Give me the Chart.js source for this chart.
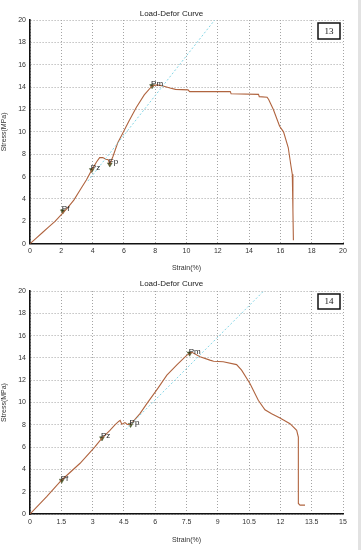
<!DOCTYPE html>
<html>
<head>
<meta charset="utf-8">
<script src="https://cdn.jsdelivr.net/npm/chart.js@4"></script>
<style>
  body { margin: 0; background: #fff; width: 363px; height: 550px; position: relative; overflow: hidden; }
  canvas { display: block; }
  .edge { position: absolute; left: 358px; top: 0; width: 3px; height: 550px; background: #e2e2e2; }
</style>
</head>
<body>
<canvas id="chart13" width="363" height="275"></canvas>
<canvas id="chart14" width="363" height="275"></canvas>
<div class="edge"></div>
<script>
// specimen 13
const strain13 = [0, 0.4, 0.8, 1.2, 1.6, 2.0, 2.4, 2.8, 3.2, 3.6, 3.95, 4.25, 4.45, 4.65, 4.85, 5.0, 5.1, 5.3, 5.6, 5.9, 6.3, 6.8, 7.3, 7.8, 8.1, 8.5, 9.0, 9.3, 10.1, 10.2, 12.8, 12.85, 14.6, 14.65, 15.15, 15.25, 15.55, 15.95, 16.2, 16.5, 16.68, 16.76, 16.8, 16.83];
const stress13 = [0, 0.5, 1.0, 1.5, 2.0, 2.6, 3.2, 3.9, 4.8, 5.7, 6.6, 7.3, 7.7, 7.7, 7.55, 7.5, 7.1, 7.8, 9.0, 9.8, 10.9, 12.2, 13.3, 14.1, 14.2, 14.1, 13.9, 13.8, 13.75, 13.6, 13.6, 13.4, 13.35, 13.15, 13.1, 12.9, 12.0, 10.5, 10.0, 8.6, 6.9, 6.2, 3.0, 0.3];
const markLabels13 = ['Pf', 'Pz', 'Fp', 'Pm'];
const markStrain13 = [2.1, 3.95, 5.1, 7.8];
const markStress13 = [2.9, 6.6, 7.1, 14.1];
const guideStrain13 = [3.7, 11.8];
const guideStress13 = [5.6, 20];
const xTicks13 = [0, 2, 4, 6, 8, 10, 12, 14, 16, 18, 20];

// specimen 14
const strain14 = [0, 0.8, 1.52, 2.4, 3.1, 3.45, 3.83, 4.07, 4.25, 4.32, 4.4, 4.55, 4.65, 4.8, 4.95, 5.27, 5.6, 6.1, 6.56, 7.05, 7.52, 7.76, 8.15, 8.62, 8.8, 9.26, 9.9, 10.14, 10.54, 10.94, 11.26, 11.58, 11.98, 12.46, 12.78, 12.86, 12.86, 12.94, 13.18];
const stress14 = [0, 1.55, 3.05, 4.55, 6.0, 6.8, 7.5, 8.0, 8.3, 8.4, 8.05, 8.2, 8.05, 8.0, 8.3, 9.0, 9.9, 11.2, 12.45, 13.4, 14.25, 14.5, 14.1, 13.8, 13.7, 13.65, 13.4, 12.9, 11.7, 10.2, 9.35, 9.0, 8.6, 8.1, 7.5, 6.9, 0.95, 0.8, 0.8];
const markLabels14 = ['Pf', 'Pz', 'Pp', 'Pm'];
const markStrain14 = [1.52, 3.45, 4.82, 7.65];
const markStress14 = [3.0, 6.8, 8.0, 14.4];
const guideStrain14 = [4.6, 11.2];
const guideStress14 = [7.6, 20];
const xTicks14 = [0, 1.5, 3, 4.5, 6, 7.5, 9, 10.5, 12, 13.5, 15];

const yTicks = [0, 2, 4, 6, 8, 10, 12, 14, 16, 18, 20];

const FONT = 'Liberation Sans, Arial, sans-serif';
const curveColor = '#b0643f';
const markColor = '#4b5a2c';
const gridColor = '#a4a4a4';

const toPoints = (xs, ys) => xs.map((x, i) => ({ x: x, y: ys[i] }));

// labels next to the marker triangles
const markLabelPlugin = {
  id: 'markLabels',
  afterDatasetsDraw(chart) {
    const ctx = chart.ctx;
    const meta = chart.getDatasetMeta(2);
    const names = chart.config.options.plugins.markLabels.names;
    ctx.save();
    ctx.font = '8px ' + FONT;
    ctx.fillStyle = '#222';
    ctx.textAlign = 'left';
    ctx.textBaseline = 'bottom';
    meta.data.forEach((pt, i) => {
      ctx.fillText(names[i], pt.x - 1, pt.y + 2);
    });
    ctx.restore();
  }
};

// small framed specimen number in the corner
const specimenBoxPlugin = {
  id: 'specimenBox',
  afterDraw(chart) {
    const opts = chart.config.options.plugins.specimenBox;
    const area = chart.chartArea;
    const ctx = chart.ctx;
    const w = 22, h = opts.h;
    const x = area.right - 3 - w, y = area.top + 3;
    ctx.save();
    ctx.fillStyle = '#fff';
    ctx.fillRect(x, y, w, h);
    ctx.strokeStyle = '#111';
    ctx.lineWidth = 1.5;
    ctx.strokeRect(x, y, w, h);
    ctx.fillStyle = '#111';
    ctx.font = '9px Liberation Serif, serif';
    ctx.textAlign = 'center';
    ctx.textBaseline = 'middle';
    ctx.fillText(opts.text, x + w / 2, y + h / 2 + 0.5);
    ctx.restore();
  }
};

const axisFont = { family: FONT, size: 7 };

const makeChart = (id, cfg) => {
  const ctx = document.getElementById(id).getContext('2d');
  return new Chart(ctx, {
    type: 'scatter',
    data: {
      datasets: [
        {
          data: toPoints(cfg.guideX, cfg.guideY),
          showLine: true,
          borderColor: '#86d6e6',
          borderWidth: 1,
          borderDash: [2, 2],
          pointRadius: 0
        },
        {
          data: toPoints(cfg.strain, cfg.stress),
          showLine: true,
          borderColor: curveColor,
          borderWidth: 1.1,
          pointRadius: 0
        },
        {
          data: toPoints(cfg.markX, cfg.markY),
          pointStyle: 'triangle',
          rotation: 180,
          pointRadius: 2.8,
          backgroundColor: markColor,
          borderColor: markColor,
          borderWidth: 0.5
        }
      ]
    },
    options: {
      responsive: false,
      animation: false,
      devicePixelRatio: 1,
      layout: { padding: { left: 0, right: 20, top: 0, bottom: 0 } },
      plugins: {
        legend: { display: false },
        tooltip: { enabled: false },
        title: {
          display: true,
          text: 'Load-Defor Curve',
          color: '#222',
          font: { family: FONT, size: 8, weight: 'normal' },
          padding: cfg.titlePad
        },
        markLabels: { names: cfg.names },
        specimenBox: { text: cfg.box, h: cfg.boxH }
      },
      scales: {
        x: {
          type: 'linear',
          min: 0,
          max: cfg.xTicks[cfg.xTicks.length - 1],
          afterBuildTicks: (scale) => { scale.ticks = cfg.xTicks.map(v => ({ value: v })); },
          afterFit: (scale) => { scale.height = cfg.xHeight; },
          ticks: {
            color: '#333',
            font: axisFont,
            padding: cfg.xTickPad,
            maxRotation: 0,
            autoSkip: false,
            callback: (v) => String(v)
          },
          grid: { color: gridColor, lineWidth: 1, drawTicks: false },
          border: { display: true, color: '#111', width: 1.6, dash: [1, 2] },
          title: {
            display: true,
            text: 'Strain(%)',
            color: '#333',
            font: axisFont,
            padding: { top: 0, bottom: cfg.xTitlePad }
          }
        },
        y: {
          type: 'linear',
          min: 0,
          max: 20,
          afterBuildTicks: (scale) => { scale.ticks = yTicks.map(v => ({ value: v })); },
          afterFit: (scale) => { scale.width = 30; },
          ticks: { color: '#333', font: axisFont, padding: 4 },
          grid: { color: gridColor, lineWidth: 1, drawTicks: false },
          border: { display: true, color: '#111', width: 1.6, dash: [1, 2] },
          title: {
            display: true,
            text: 'Stress(MPa)',
            color: '#333',
            font: axisFont,
            padding: { top: 0, bottom: 0 }
          }
        }
      }
    },
    plugins: [markLabelPlugin, specimenBoxPlugin]
  });
};

makeChart('chart13', {
  strain: strain13, stress: stress13,
  markX: markStrain13, markY: markStress13, names: markLabels13,
  guideX: guideStrain13, guideY: guideStress13,
  xTicks: xTicks13, box: '13', boxH: 16,
  titlePad: { top: 9, bottom: 1.4 },
  xHeight: 31.3, xTickPad: 3, xTitlePad: 2.8
});

makeChart('chart14', {
  strain: strain14, stress: stress14,
  markX: markStrain14, markY: markStress14, names: markLabels14,
  guideX: guideStrain14, guideY: guideStress14,
  xTicks: xTicks14, box: '14', boxH: 15,
  titlePad: { top: 4, bottom: 2.4 },
  xHeight: 36, xTickPad: 4, xTitlePad: 5.8
});
</script>
</body>
</html>
